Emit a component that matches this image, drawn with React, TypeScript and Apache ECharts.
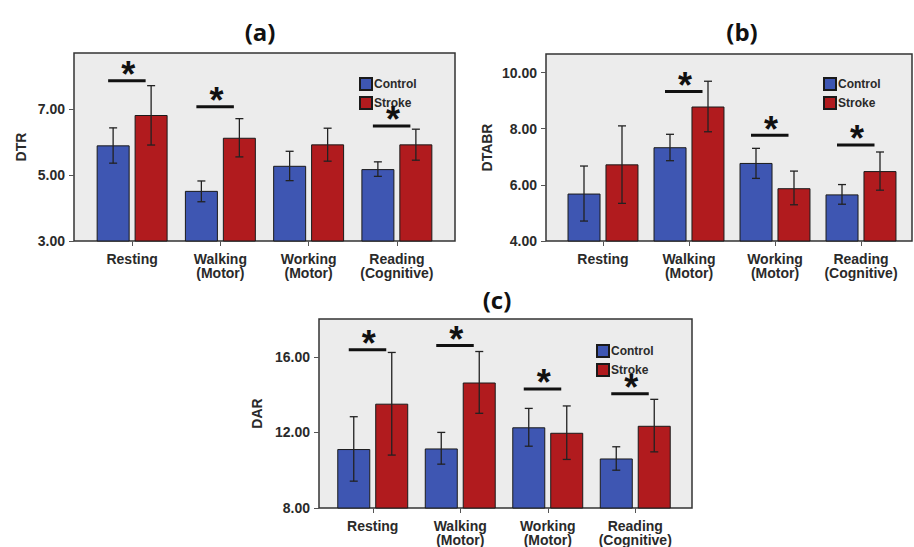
import React, { useEffect, useRef } from "react";
import * as echarts from "echarts";

const categories = ["Resting", "Walking\n(Motor)", "Working\n(Motor)", "Reading\n(Cognitive)"];
const seriesNames = ["Control", "Stroke"];

// (a) DTR
const dtrControl = [5.9, 4.52, 5.28, 5.18];
const dtrControlLow = [5.36, 4.19, 4.83, 4.96];
const dtrControlHigh = [6.43, 4.82, 5.72, 5.4];
const dtrStroke = [6.82, 6.13, 5.93, 5.93];
const dtrStrokeLow = [5.91, 5.55, 5.42, 5.45];
const dtrStrokeHigh = [7.71, 6.71, 6.42, 6.39];
const dtrSig = [[0, 7.86], [1, 7.07], [3, 6.49]];
const dtrTicks = [3, 5, 7];

// (b) DTABR
const dtabrControl = [5.69, 7.34, 6.78, 5.66];
const dtabrControlLow = [4.71, 6.86, 6.23, 5.31];
const dtabrControlHigh = [6.67, 7.8, 7.3, 6.01];
const dtabrStroke = [6.73, 8.79, 5.88, 6.49];
const dtabrStrokeLow = [5.34, 7.89, 5.29, 5.81];
const dtabrStrokeHigh = [8.1, 9.69, 6.49, 7.17];
const dtabrSig = [[1, 9.32], [2, 7.77], [3, 7.42]];
const dtabrTicks = [4, 6, 8, 10];

// (c) DAR
const darControl = [11.12, 11.15, 12.27, 10.62];
const darControlLow = [9.42, 10.32, 11.27, 10.0];
const darControlHigh = [12.83, 12.0, 13.27, 11.24];
const darStroke = [13.52, 14.64, 11.98, 12.35];
const darStrokeLow = [10.8, 13.01, 10.57, 10.97];
const darStrokeHigh = [16.23, 16.28, 13.4, 13.75];
const darSig = [[0, 16.37], [1, 16.6], [2, 14.3], [3, 14.04]];
const darTicks = [8, 12, 16];

const BLUE = "#3e56b2";
const RED = "#b11b1e";
const BAR_W = 33;
const BAR_SHIFT = 19;
const FONT = "'Liberation Sans', Arial, sans-serif";

type Panel = {
  title: string;
  yName: string;
  min: number;
  max: number;
  ticks: number[];
  frame: { left: number; right: number; top: number; bottom: number };
  data: { left: number; right: number };
  yOffset: number;
  nameGap: number;
  legend: { left: number; top: number };
  titlePos: [number, number];
  control: number[];
  controlLow: number[];
  controlHigh: number[];
  stroke: number[];
  strokeLow: number[];
  strokeHigh: number[];
  sig: number[][];
};

const panels: Panel[] = [
  {
    title: "(a)", yName: "DTR", min: 3, max: 8.7, ticks: dtrTicks,
    frame: { left: 74, right: 459, top: 53, bottom: 306 },
    data: { left: 88, right: 473 }, yOffset: 14, nameGap: 46,
    legend: { left: 359, top: 77 }, titlePos: [260, 31],
    control: dtrControl, controlLow: dtrControlLow, controlHigh: dtrControlHigh,
    stroke: dtrStroke, strokeLow: dtrStrokeLow, strokeHigh: dtrStrokeHigh, sig: dtrSig,
  },
  {
    title: "(b)", yName: "DTABR", min: 4, max: 10.66, ticks: dtabrTicks,
    frame: { left: 546, right: 2, top: 54, bottom: 306 },
    data: { left: 560, right: 10 }, yOffset: 14, nameGap: 52,
    legend: { left: 823, top: 77 }, titlePos: [742, 31],
    control: dtabrControl, controlLow: dtabrControlLow, controlHigh: dtabrControlHigh,
    stroke: dtabrStroke, strokeLow: dtabrStrokeLow, strokeHigh: dtabrStrokeHigh, sig: dtabrSig,
  },
  {
    title: "(c)", yName: "DAR", min: 8, max: 18, ticks: darTicks,
    frame: { left: 319, right: 222, top: 319, bottom: 39 },
    data: { left: 329, right: 235 }, yOffset: 10, nameGap: 55,
    legend: { left: 596, top: 344 }, titlePos: [497, 299],
    control: darControl, controlLow: darControlLow, controlHigh: darControlHigh,
    stroke: darStroke, strokeLow: darStrokeLow, strokeHigh: darStrokeHigh, sig: darSig,
  },
];

function buildOption() {
  const grid: any[] = [];
  const xAxis: any[] = [];
  const yAxis: any[] = [];
  const series: any[] = [];
  const legend: any[] = [];
  const graphic: any[] = [];

  panels.forEach((p, i) => {
    const fi = i * 2;
    const di = i * 2 + 1;
    grid.push({
      left: p.frame.left, right: p.frame.right, top: p.frame.top, bottom: p.frame.bottom,
      show: true, backgroundColor: "#ececec", borderColor: "#333", borderWidth: 1.5, z: 0,
    });
    grid.push({
      left: p.data.left, right: p.data.right, top: p.frame.top, bottom: p.frame.bottom,
      show: false,
    });
    xAxis.push({ gridIndex: fi, type: "value", show: false, min: 0, max: 1 });
    yAxis.push({ gridIndex: fi, type: "value", show: false, min: 0, max: 1 });
    xAxis.push({
      gridIndex: di, type: "category", data: categories,
      axisLine: { show: false },
      axisTick: { show: true, alignWithLabel: true, length: 5, lineStyle: { color: "#555", width: 1 } },
      axisLabel: {
        margin: 11, fontFamily: FONT, fontSize: 14, fontWeight: "bold", color: "#2a2a2a",
        lineHeight: 14, interval: 0,
      },
      splitLine: { show: false },
    });
    yAxis.push({
      gridIndex: di, type: "value", min: p.min, max: p.max, offset: p.yOffset,
      name: p.yName, nameLocation: "middle", nameRotate: 90, nameGap: p.nameGap,
      nameTextStyle: { fontFamily: FONT, fontSize: 14, fontWeight: "bold", color: "#2a2a2a" },
      axisLine: { show: false },
      axisTick: { show: true, length: 5, customValues: p.ticks, lineStyle: { color: "#555", width: 1 } },
      axisLabel: {
        margin: 9, customValues: p.ticks, fontFamily: FONT, fontSize: 14, fontWeight: "bold",
        color: "#2a2a2a", formatter: (v: number) => v.toFixed(2),
      },
      splitLine: { show: false },
    });

    series.push({
      type: "bar", name: seriesNames[0], xAxisIndex: di, yAxisIndex: di, data: p.control,
      barWidth: BAR_W, barGap: "15%",
      itemStyle: { color: BLUE, borderColor: "#1a1a1a", borderWidth: 1 },
    });
    series.push({
      type: "bar", name: seriesNames[1], xAxisIndex: di, yAxisIndex: di, data: p.stroke,
      barWidth: BAR_W, barGap: "15%",
      itemStyle: { color: RED, borderColor: "#1a1a1a", borderWidth: 1 },
    });

    const errData: number[][] = [];
    p.control.forEach((_, k) => errData.push([k, p.controlLow[k], p.controlHigh[k], -1]));
    p.stroke.forEach((_, k) => errData.push([k, p.strokeLow[k], p.strokeHigh[k], 1]));
    series.push({
      type: "custom", xAxisIndex: di, yAxisIndex: di, z: 3, silent: true,
      encode: { x: 0, y: [1, 2] },
      data: errData,
      renderItem: (_params: any, api: any) => {
        const off = api.value(3) as number;
        const lo = api.coord([api.value(0), api.value(1)]);
        const hi = api.coord([api.value(0), api.value(2)]);
        const x = lo[0] + off * BAR_SHIFT;
        const cap = 4;
        const st = { stroke: "#222", lineWidth: 1.3 };
        return {
          type: "group",
          children: [
            { type: "line", shape: { x1: x, y1: lo[1], x2: x, y2: hi[1] }, style: st },
            { type: "line", shape: { x1: x - cap, y1: lo[1], x2: x + cap, y2: lo[1] }, style: st },
            { type: "line", shape: { x1: x - cap, y1: hi[1], x2: x + cap, y2: hi[1] }, style: st },
          ],
        };
      },
    });

    series.push({
      type: "custom", xAxisIndex: di, yAxisIndex: di, z: 4, silent: true,
      encode: { x: 0, y: 1 },
      data: p.sig,
      renderItem: (_params: any, api: any) => {
        const c = api.coord([api.value(0), api.value(1)]);
        return {
          type: "group",
          children: [
            {
              type: "line",
              shape: { x1: c[0] - 24, y1: c[1], x2: c[0] + 13.5, y2: c[1] },
              style: { stroke: "#111", lineWidth: 3 },
            },
            {
              type: "text",
              x: c[0] - 4, y: c[1] - 6,
              style: {
                text: "*", fontFamily: FONT, fontSize: 36, fontWeight: "bold", fill: "#111",
                align: "center", verticalAlign: "middle",
              },
            },
          ],
        };
      },
    });

    legend.push({
      left: p.legend.left, top: p.legend.top, orient: "vertical", padding: 0,
      itemWidth: 12, itemHeight: 12, itemGap: 5, icon: "rect",
      data: seriesNames,
      selectedMode: false,
      textStyle: { fontFamily: FONT, fontSize: 12, fontWeight: "bold", color: "#2a2a2a", padding: [0, 0, 0, -3] },
    });

    graphic.push({
      type: "text", x: p.titlePos[0], y: p.titlePos[1],
      style: {
        text: p.title, fontFamily: "'Open Sans', sans-serif", fontSize: 24, fontWeight: "bold",
        fill: "#111", align: "center", verticalAlign: "middle",
      },
    });
  });

  return {
    animation: false,
    backgroundColor: "#ffffff",
    grid, xAxis, yAxis, series, legend, graphic,
  };
}

export default function App() {
  const ref = useRef<HTMLDivElement>(null);
  useEffect(() => {
    if (!ref.current) return;
    const chart = echarts.init(ref.current, undefined, { renderer: "svg" });
    chart.setOption(buildOption() as any);
    return () => chart.dispose();
  }, []);
  return (
    <div
      ref={ref}
      style={{ position: "fixed", left: 0, top: 0, width: 914, height: 547 }}
    />
  );
}
